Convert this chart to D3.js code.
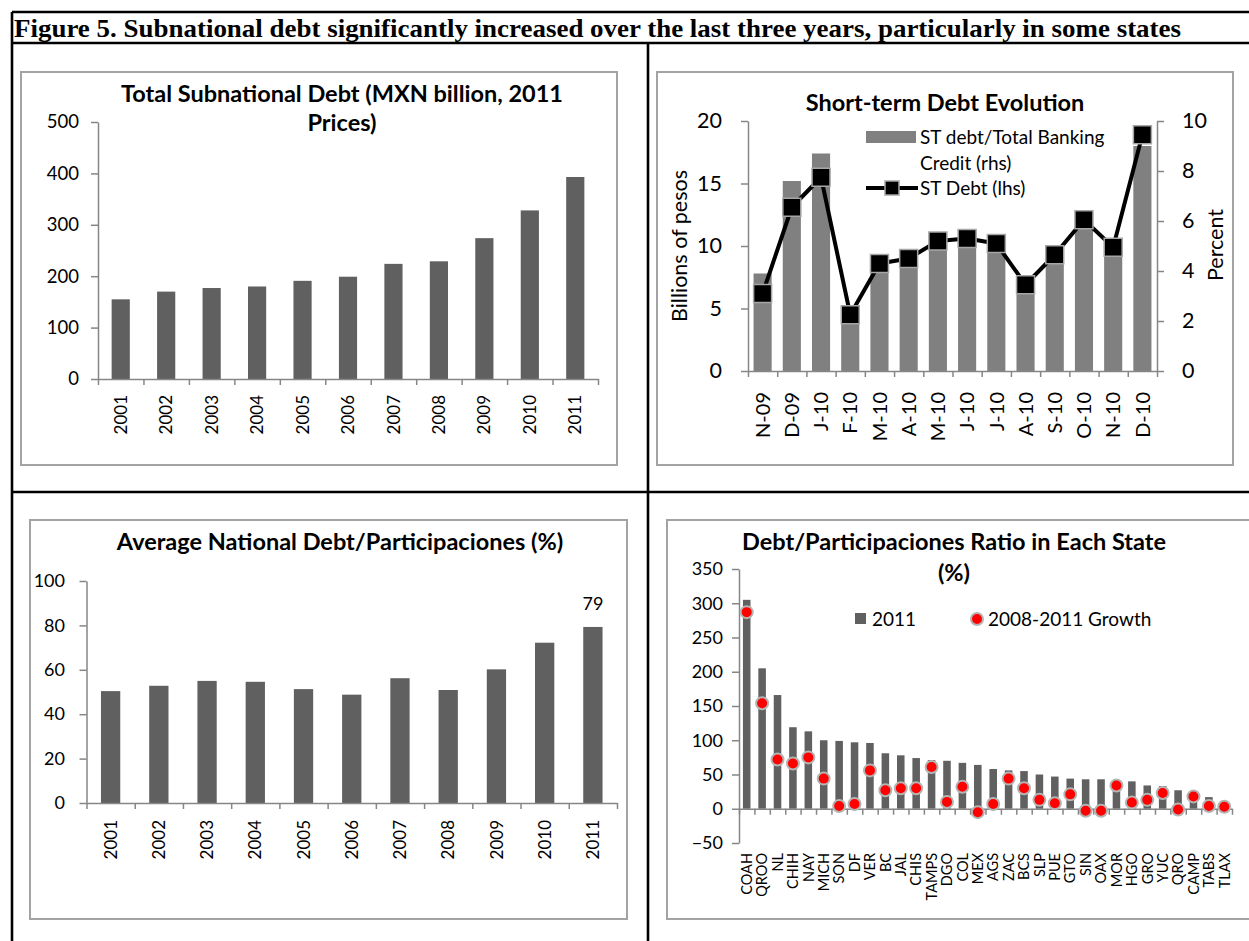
<!DOCTYPE html>
<html>
<head>
<meta charset="utf-8">
<script src="https://cdn.jsdelivr.net/npm/d3@7"></script>
<style>
body { margin: 0; background: #fff; }
text { font-family: Lato, "Open Sans", sans-serif; }
</style>
</head>
<body>
<svg id="fig" width="1249" height="941"></svg>
<script>
// ---- data ----
var years = ["2001", "2002", "2003", "2004", "2005", "2006", "2007", "2008", "2009", "2010", "2011"];
var totalDebt = [155, 170, 177, 180, 191, 199, 224, 229, 274, 328, 393];

var months = ["N-09", "D-09", "J-10", "F-10", "M-10", "A-10", "M-10", "J-10", "J-10", "A-10", "S-10", "O-10", "N-10", "D-10"];
var stShare = [3.9, 7.6, 8.7, 2.2, 4.2, 4.4, 5.1, 5.3, 5.1, 3.3, 4.5, 5.9, 4.8, 9.0];   // percent, rhs
var stDebt = [6.2, 13.1, 15.5, 4.5, 8.6, 9.0, 10.4, 10.6, 10.2, 6.9, 9.3, 12.1, 9.9, 18.9]; // billions, lhs

var avgRatio = [50.4, 52.8, 55, 54.6, 51.3, 48.8, 56.2, 50.9, 60.2, 72.2, 79.3];

var states = ["COAH", "QROO", "NL", "CHIH", "NAY", "MICH", "SON", "DF", "VER", "BC", "JAL", "CHIS", "TAMPS", "DGO", "COL", "MEX",
  "AGS", "ZAC", "BCS", "SLP", "PUE", "GTO", "SIN", "OAX", "MOR", "HGO", "GRO", "YUC", "QRO", "CAMP", "TABS", "TLAX"];
var ratio2011 = [305, 205, 166, 119, 113, 100, 99, 97, 96, 81, 78, 74, 71, 70, 67, 64,
  58, 56, 55, 50, 47, 44, 43, 43, 41, 40, 34, 33, 27, 20, 17, 5];
var growth0811 = [287, 154, 72, 66, 75, 44, 4, 7, 56, 27, 30, 30, 61, 10, 32, -5,
  7, 44, 30, 13, 8, 21, -3, -3, 34, 9, 13, 23, -1, 18, 4, 3];

var svg = d3.select("#fig");
var axisGray = "#868686";
var darkBar = "#606060";

// ---- helpers ----
function frame(x, y, w, h) {
  svg.append("rect")
    .attr("x", x).attr("y", y)
    .attr("width", w).attr("height", h)
    .attr("fill", "none")
    .attr("stroke", "#a3a3a3")
    .attr("stroke-width", 2);
}

function styleAxis(g, size) {
  g.attr("font-size", size);
  g.selectAll("path, line").attr("stroke", axisGray).attr("stroke-width", 1.5);
  g.selectAll("text").attr("fill", "#000");
}

function yAxis(scale, x, ticks, side, pad, size) {
  var ax = side == "right" ? d3.axisRight(scale) : d3.axisLeft(scale);
  ax.tickValues(ticks).tickSize(7).tickSizeOuter(0).tickPadding(pad);
  var g = svg.append("g").attr("transform", "translate(" + x + ",0)").call(ax);
  styleAxis(g, size);
}

function xAxis(n, x0, x1, y) {
  var lin = d3.scaleLinear().domain([0, n]).range([x0, x1]);
  var g = svg.append("g").attr("transform", "translate(0," + y + ")")
    .call(d3.axisBottom(lin).tickValues(d3.range(n + 1)).tickFormat("").tickSize(6).tickSizeOuter(0));
  styleAxis(g, 18);
}

function xLabels(labels, band, yTop, size) {
  svg.append("g").selectAll("text")
    .data(labels)
    .enter()
    .append("text")
    .attr("transform", function(d, i) {
      return "translate(" + (band(i) + band.bandwidth() / 2) + "," + yTop + ") rotate(-90)";
    })
    .attr("text-anchor", "end")
    .attr("dy", "0.36em")
    .attr("font-size", size)
    .text(function(d) { return d; });
}

function title(lines, cx, y0, gap) {
  lines.forEach(function(t, i) {
    svg.append("text")
      .attr("x", cx).attr("y", y0 + i * gap)
      .attr("dy", "0.35em")
      .attr("text-anchor", "middle")
      .attr("font-weight", "bold")
      .attr("font-size", 23.5)
      .text(t);
  });
}

function bars(values, band, y, fill) {
  svg.append("g").selectAll("rect")
    .data(values)
    .enter()
    .append("rect")
    .attr("x", function(d, i) { return band(i); })
    .attr("width", band.bandwidth())
    .attr("y", function(d) { return y(Math.max(d, 0)); })
    .attr("height", function(d) { return Math.abs(y(d) - y(0)); })
    .attr("fill", fill);
}

// ---- page table ----
svg.append("text")
  .attr("x", 14).attr("y", 37)
  .style("font-family", "'Liberation Serif', 'DejaVu Serif', serif")
  .attr("font-weight", "bold")
  .attr("font-size", 26)
  .attr("textLength", 1167)
  .attr("lengthAdjust", "spacingAndGlyphs")
  .text("Figure 5. Subnational debt significantly increased over the last three years, particularly in some states");

var rules = [[12, 12, 1249, 12], [12, 43, 1249, 43], [12, 492, 1249, 492], [12, 12, 12, 941], [648, 43, 648, 941]];
svg.append("g").selectAll("line")
  .data(rules)
  .enter()
  .append("line")
  .attr("x1", function(d) { return d[0]; })
  .attr("y1", function(d) { return d[1]; })
  .attr("x2", function(d) { return d[2]; })
  .attr("y2", function(d) { return d[3]; })
  .attr("stroke", "#000")
  .attr("stroke-width", 2.6);

// ---- chart 1: total subnational debt ----
frame(21, 72, 596, 393);
title(["Total Subnational Debt (MXN billion, 2011", "Prices)"], 342, 94, 29);
var x1 = d3.scaleBand().domain(d3.range(years.length)).range([98, 598]).paddingInner(0.6).paddingOuter(0.3);
var y1 = d3.scaleLinear().domain([0, 500]).range([379, 122]);
bars(totalDebt, x1, y1, darkBar);
yAxis(y1, 98, [0, 100, 200, 300, 400, 500], "left", 12, 18.5);
xAxis(years.length, 98, 598, 379);
xLabels(years, x1, 395, 17);

// ---- chart 2: short-term debt ----
frame(657, 72, 576, 393);
title(["Short-term Debt Evolution"], 945, 103, 0);
var x2 = d3.scaleBand().domain(d3.range(months.length)).range([748, 1157]).paddingInner(0.38).paddingOuter(0.19);
var y2L = d3.scaleLinear().domain([0, 20]).range([371, 121]);
var y2R = d3.scaleLinear().domain([0, 10]).range([371, 121]);
bars(stShare, x2, y2R, "#808080");
yAxis(y2L, 748, [0, 5, 10, 15, 20], "left", 19, 21.5);
yAxis(y2R, 1157, [0, 2, 4, 6, 8, 10], "right", 18, 21.5);
xAxis(months.length, 748, 1157, 371);
xLabels(months, x2, 392, 20);

var cx2 = function(d, i) { return x2(i) + x2.bandwidth() / 2; };
svg.append("path")
  .datum(stDebt)
  .attr("fill", "none")
  .attr("stroke", "#000")
  .attr("stroke-width", 4)
  .attr("stroke-linejoin", "round")
  .attr("d", d3.line().x(cx2).y(function(d) { return y2L(d); }));
svg.append("g").selectAll("rect")
  .data(stDebt)
  .enter()
  .append("rect")
  .attr("x", function(d, i) { return cx2(d, i) - 9; })
  .attr("y", function(d) { return y2L(d) - 9; })
  .attr("width", 18).attr("height", 18)
  .attr("fill", "#000")
  .attr("stroke", "#a6a6a6")
  .attr("stroke-width", 1.5);

svg.append("text").attr("transform", "translate(679,246) rotate(-90)")
  .attr("text-anchor", "middle").attr("dy", "0.35em").attr("font-size", 21.5).text("Billions of pesos");
svg.append("text").attr("transform", "translate(1215,245) rotate(-90)")
  .attr("text-anchor", "middle").attr("dy", "0.35em").attr("font-size", 21.5).text("Percent");

// legend
svg.append("rect").attr("x", 866).attr("y", 131).attr("width", 50).attr("height", 12).attr("fill", "#808080");
svg.append("text").attr("x", 920).attr("y", 137).attr("dy", "0.35em").attr("font-size", 19).text("ST debt/Total Banking");
svg.append("text").attr("x", 920).attr("y", 163).attr("dy", "0.35em").attr("font-size", 19).text("Credit (rhs)");
svg.append("line").attr("x1", 866).attr("x2", 918).attr("y1", 188).attr("y2", 188)
  .attr("stroke", "#000").attr("stroke-width", 4);
svg.append("rect").attr("x", 885).attr("y", 181).attr("width", 14).attr("height", 14)
  .attr("fill", "#000").attr("stroke", "#a6a6a6").attr("stroke-width", 1.5);
svg.append("text").attr("x", 920).attr("y", 188).attr("dy", "0.35em").attr("font-size", 19).text("ST Debt (lhs)");

// ---- chart 3: average debt / participaciones ----
frame(30, 520, 597, 399);
title(["Average National Debt/Participaciones (%)"], 340, 542, 0);
var x3 = d3.scaleBand().domain(d3.range(years.length)).range([86.5, 617]).paddingInner(0.6).paddingOuter(0.3);
var y3 = d3.scaleLinear().domain([0, 100]).range([803, 581]);
bars(avgRatio, x3, y3, darkBar);
yAxis(y3, 86.5, [0, 20, 40, 60, 80, 100], "left", 14.5, 18);
xAxis(years.length, 86.5, 617, 803);
xLabels(years, x3, 820, 17);
var last = avgRatio.length - 1;
svg.append("text")
  .attr("x", x3(last) + x3.bandwidth() / 2)
  .attr("y", y3(avgRatio[last]) - 23)
  .attr("dy", "0.35em")
  .attr("text-anchor", "middle")
  .attr("font-size", 18)
  .text(Math.floor(avgRatio[last]));

// ---- chart 4: ratio by state ----
frame(667, 520, 600, 399);
title(["Debt/Participaciones Ratio in Each State", "(%)"], 954, 542, 31);
var x4 = d3.scaleBand().domain(d3.range(states.length)).range([739, 1232]).paddingInner(0.51).paddingOuter(0.255);
var y4 = d3.scaleLinear().domain([-50, 350]).range([843, 569]);
bars(ratio2011, x4, y4, darkBar);
yAxis(y4, 739, [-50, 0, 50, 100, 150, 200, 250, 300, 350], "left", 9, 18);
xAxis(states.length, 739, 1232, y4(0));
xLabels(states, x4, 853, 14.5);
svg.append("g").selectAll("circle")
  .data(growth0811)
  .enter()
  .append("circle")
  .attr("cx", function(d, i) { return x4(i) + x4.bandwidth() / 2; })
  .attr("cy", function(d) { return y4(d); })
  .attr("r", 6)
  .attr("fill", "#ff0000")
  .attr("stroke", "#b4b4b4")
  .attr("stroke-width", 2);

// legend
svg.append("rect").attr("x", 855).attr("y", 613).attr("width", 11).attr("height", 11).attr("fill", darkBar);
svg.append("text").attr("x", 872).attr("y", 619).attr("dy", "0.35em").attr("font-size", 19).text("2011");
svg.append("circle").attr("cx", 977).attr("cy", 619).attr("r", 6)
  .attr("fill", "#ff0000").attr("stroke", "#b4b4b4").attr("stroke-width", 2);
svg.append("text").attr("x", 988).attr("y", 619).attr("dy", "0.35em").attr("font-size", 19).text("2008-2011 Growth");
</script>
</body>
</html>
